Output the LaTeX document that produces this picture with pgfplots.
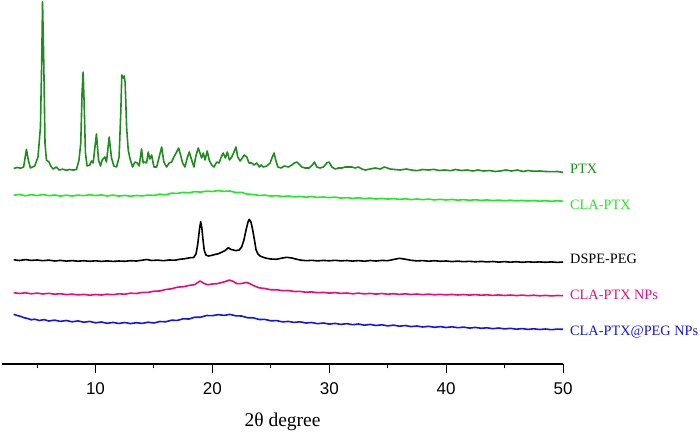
\documentclass[border=0pt]{standalone}
\usepackage{fontspec}
\setmainfont{Liberation Serif}
\newfontfamily\arial{Liberation Sans}
\usepackage{pgfplots}
\pgfplotsset{compat=1.18}
\definecolor{ptxgreen}{RGB}{30,140,30}
\definecolor{clagreen}{RGB}{30,235,30}
\definecolor{npspink}{RGB}{235,10,120}
\definecolor{pegblue}{RGB}{20,20,230}
\begin{document}
\begin{tikzpicture}
\useasboundingbox (-2pt,-67pt) rectangle (698pt,364pt);
\begin{axis}[
    at={(0,0)}, anchor=south west,
    scale only axis, width=561pt, height=364pt,
    xmin=2, xmax=50, ymin=0, ymax=364,
    axis x line=bottom, axis y line=none,
    x axis line style={-, line width=1.2pt},
    xtick={10,20,30,40,50}, minor xtick={5,15,25,35,45}, ytick=\empty,
    tick align=outside, major tick length=8.5pt, minor tick length=4.3pt,
    tick style={black, line width=0.9pt},
    /pgf/number format/assume math mode=true,
    xticklabel style={font=\arial\fontsize{17}{19}\selectfont, inner sep=0pt, anchor=north, yshift=-10pt},
    xlabel={2θ degree},
    xlabel style={font=\fontsize{19.5}{22}\selectfont, at={(axis description cs:0.5,0)}, anchor=base, yshift=-62pt, inner sep=0pt},
    clip=false,
    every axis plot/.append style={line width=1.6pt, line join=round},
]
% PTX
\addplot[ptxgreen] table {
3.0 195.5
3.3 196.5
3.6 195.8
3.85 197
4.09 214.7
4.25 204
4.43 196
4.80 198
5.08 207
5.29 237
5.40 304
5.47 362
5.57 304
5.68 221
5.80 204
6.02 202
6.17 198
6.37 195
6.66 197
6.88 194
7.2 194.8
7.5 193.8
7.8 194.5
8.1 193.9
8.37 194.5
8.59 204
8.74 221
8.85 271
8.94 292
9.02 264
9.14 211
9.28 198
9.51 199
9.66 203
9.80 201
10.08 230
10.26 204
10.43 198
10.57 204
10.80 207
10.94 202
11.17 227
11.37 206
11.57 198
11.80 197
12.02 207
12.17 254
12.25 289
12.37 286
12.45 288
12.54 281
12.66 237
12.80 214
12.94 206
13.17 197
13.37 202
13.57 201
13.74 198
13.94 215
14.08 201
14.22 202
14.37 201
14.51 212
14.65 205
14.80 209
15.00 197
15.23 197
15.45 207
15.66 217
15.85 202
16.08 197
16.31 201
16.51 202
16.71 207
16.94 212
17.11 216
17.28 209
17.45 201
17.65 197
17.85 206
18.02 212
18.23 204
18.42 197
18.59 208
18.79 216
18.94 211
19.08 206
19.22 211
19.37 204
19.56 213
19.73 204
19.94 199
20.14 197
20.37 202
20.57 201
20.76 207
20.93 211
21.11 206
21.28 212
21.45 204
21.66 207
21.85 212
22.02 217
22.17 207
22.37 203
22.56 206
22.73 209
22.94 207
23.14 201
23.37 201
23.57 199
23.80 201
24.02 197
24.17 199
24.36 197
24.65 198
24.94 201
25.13 207
25.28 211
25.42 204
25.60 197
25.88 196
26.16 198
26.50 197
26.80 199
27.02 201
27.22 202
27.42 200
27.65 197
27.94 196
28.28 196
28.56 199
28.73 202
28.94 197
29.22 196
29.50 197
29.79 201
29.99 202
30.22 197
30.51 195
30.79 196
31.08 196
31.37 197
31.65 197
31.94 197
32.22 196
32.50 197
32.79 195
33.08 194
33.50 195
33.94 196
34.36 195
34.73 197
35.2 195
35.6 194.5
36.08 194
36.6 195
37.0 194
37.51 193.3
38.0 194.5
38.5 194
38.93 194.7
39.4 193.5
39.9 194
40.36 193.3
40.8 194.5
41.3 193.5
41.79 194
42.3 193
42.7 194
43.21 193
43.7 193.5
44.2 192.5
44.64 193
45.1 194
45.6 193
46.08 194
46.6 192.5
47.0 193.5
47.51 192.7
48.0 193
48.5 192.5
48.94 192.3
49.5 192.5
50.0 191.7
};
% CLA-PTX
\addplot[clagreen] table {
3.0 168.7
3.5 169.6
4.0 168.2
4.5 169.3
5.0 168.4
5.5 169.5
6.0 168.3
6.5 169.0
7.0 167.9
7.5 168.8
8.0 168.0
8.5 168.9
9.0 168.3
9.5 169.3
10.0 168.4
10.5 169.1
11.0 168.0
11.5 168.9
12.0 167.9
12.5 168.6
13.0 167.8
13.5 168.5
14.0 168.1
14.5 168.9
15.0 168.6
15.5 169.8
16.0 169.2
16.5 170.8
17.0 170.6
17.5 171.7
18.0 171.2
18.5 172.4
19.0 171.9
19.5 172.9
20.0 172.5
20.5 173.4
21.0 172.6
21.5 173.0
22.0 171.5
22.5 171.6
23.0 169.8
23.5 169.6
24.0 168.5
24.5 168.9
25.0 167.9
25.5 168.4
26.0 167.5
26.5 168.0
27.0 167.1
27.5 167.6
28.0 166.8
28.5 167.5
29.0 166.6
29.5 167.0
30.0 166.4
30.5 166.9
31.0 165.9
31.5 166.4
32.0 165.6
32.5 166.2
33.0 165.3
33.5 165.9
34.0 165.0
34.5 165.6
35.0 164.9
35.5 165.4
36.0 164.6
36.5 165.2
37.0 164.4
37.5 165.0
38.0 164.3
38.5 164.9
39.0 164.1
39.5 164.7
40.0 164.0
40.5 164.6
41.0 163.8
41.5 164.4
42.0 163.7
42.5 164.3
43.0 163.6
43.5 164.1
44.0 163.4
44.5 163.9
45.0 163.3
45.5 163.8
46.0 163.1
46.5 163.6
47.0 163.0
47.5 163.5
48.0 162.8
48.5 163.3
49.0 162.7
49.5 163.2
50.0 162.8
};
% DSPE-PEG
\addplot[black] table {
3.0 104.2
3.5 103.5
4.0 104.4
4.5 103.6
5.0 104.0
5.5 103.3
6.0 103.9
6.5 103.0
7.0 103.6
7.5 102.9
8.0 103.4
8.5 102.8
9.0 103.3
9.5 102.7
10.0 103.2
10.5 102.6
11.0 103.1
11.5 102.6
12.0 103.0
12.5 102.7
13.0 103.3
13.5 103.0
14.0 103.8
14.4 104.5
14.8 103.5
15.3 103.9
15.8 103.3
16.3 104.0
16.8 103.8
17.2 104.7
17.6 105.2
18.1 106.3
18.4 106.5
18.6 110
18.75 120
18.9 135
19.0 142.3
19.1 136
19.2 124
19.3 114
19.45 109
19.65 108
19.9 108.5
20.2 109.5
20.5 110.2
20.8 111.8
21.1 113.5
21.36 116.3
21.6 114.5
21.8 114
22.0 113.3
22.3 114
22.5 117
22.7 124
22.9 135
23.05 142
23.16 144.7
23.3 142
23.45 134
23.6 124
23.74 114
23.9 110
24.08 108
24.4 106.5
24.65 105.7
25.0 105
25.5 104.7
25.9 105.8
26.37 106.7
26.8 106
27.22 104.7
27.6 103.8
28.08 103.3
28.5 103.7
29.0 103.1
29.5 103.6
30.0 103.2
30.5 103.7
31.0 103.1
31.5 103.5
32.0 102.9
32.5 103.4
33.0 102.8
33.5 103.5
34.0 103.0
34.5 103.6
35.0 103.3
35.5 104.5
36.0 105.7
36.5 104.8
37.0 103.7
37.5 103.1
38.0 103.4
38.5 102.8
39.0 103.3
39.5 102.7
40.0 103.0
40.5 102.4
41.0 102.9
41.5 102.3
42.0 102.7
42.5 102.2
43.0 102.6
43.5 102.1
44.0 102.5
44.5 101.9
45.0 102.4
45.5 101.8
46.0 102.3
46.5 101.7
47.0 102.2
47.5 101.8
48.0 102.1
48.5 101.7
49.0 102.1
49.5 101.6
50.0 102.0
};
% CLA-PTX NPs
\addplot[npspink] table {
3.0 71.3
3.5 70.5
4.0 71.2
4.5 70.2
5.0 70.9
5.5 70.0
6.0 70.7
6.5 69.8
7.0 70.3
7.5 69.4
8.0 69.9
8.5 69.1
9.0 69.6
9.5 68.8
10.0 69.5
10.5 69.0
11.0 69.8
11.5 69.3
12.0 70.2
12.5 69.8
13.0 70.8
13.5 70.5
14.0 71.6
14.5 71.6
15.0 72.8
15.5 73.0
16.0 74.5
16.5 75.2
17.0 76.8
17.5 77.3
18.0 78.5
18.5 79.5
18.94 83
19.3 80.5
19.6 79.3
20.0 80.0
20.4 80.3
20.8 81.5
21.1 82.4
21.45 84
21.8 82.5
22.1 80.3
22.5 80.5
22.9 81.6
23.2 80.4
23.5 78.5
24.0 76.2
24.5 75.5
25.0 74.2
25.5 74.3
26.0 73.3
26.5 73.5
27.0 72.5
27.5 72.6
28.0 71.8
28.5 72.1
29.0 71.3
29.5 71.6
30.0 70.9
30.5 71.4
31.0 70.6
31.5 71.0
32.0 70.2
32.5 70.9
33.0 70.1
33.5 70.6
34.0 69.9
34.5 70.5
35.0 69.8
35.5 70.3
36.0 69.6
36.5 70.2
37.0 69.5
37.5 70.0
38.0 69.3
38.5 69.9
39.0 69.2
39.5 69.7
40.0 69.1
40.5 69.6
41.0 69.0
41.5 69.5
42.0 68.9
42.5 69.4
43.0 68.8
43.5 69.2
44.0 68.6
44.5 69.1
45.0 68.5
45.5 69.0
46.0 68.4
46.5 68.9
47.0 68.3
47.5 68.8
48.0 68.2
48.5 68.6
49.0 68.1
49.5 68.5
50.0 68.3
};
% CLA-PTX@PEG NPs
\addplot[pegblue] table {
3.0 49.7
3.3 48.5
3.6 47.6
3.9 46.2
4.2 45.5
4.5 44.2
4.8 44.8
5.2 43.5
5.6 44.4
6.0 43.0
6.5 43.9
7.0 42.6
7.5 43.5
8.0 42.2
8.5 43.1
9.0 41.8
9.5 42.6
10.0 41.2
10.5 42.0
11.0 40.7
11.5 41.6
12.0 40.5
12.5 41.5
13.0 40.4
13.5 41.3
14.0 40.6
14.5 41.8
15.0 41.0
15.5 42.5
16.0 42.2
16.5 43.8
17.0 43.6
17.5 45.2
18.0 45.0
18.5 46.8
19.0 46.8
19.5 48.5
20.0 48.3
20.5 49.4
21.0 48.6
21.5 49.6
22.0 48.2
22.5 48.0
23.0 46.3
23.5 46.2
24.0 44.5
24.5 44.6
25.0 43.2
25.5 43.4
26.0 42.1
26.5 42.6
27.0 41.6
27.5 42.2
28.0 41.0
28.5 41.5
29.0 40.3
29.5 41.0
30.0 39.9
30.5 40.6
31.0 39.6
31.5 40.4
32.0 39.3
32.5 40.0
33.0 38.8
33.5 39.6
34.0 38.5
34.5 39.2
35.0 38.1
35.5 38.9
36.0 37.8
36.5 38.5
37.0 37.4
37.5 38.0
38.0 37.0
38.5 37.7
39.0 36.7
39.5 37.4
40.0 36.5
40.5 37.2
41.0 36.3
41.5 36.9
42.0 35.9
42.5 36.6
43.0 35.7
43.5 36.2
44.0 35.3
44.5 36.0
45.0 35.1
45.5 35.7
46.0 34.8
46.5 35.4
47.0 34.6
47.5 35.2
48.0 34.5
48.5 35.0
49.0 34.3
49.5 34.9
50.0 34.7
};
\begin{scope}[every node/.style={anchor=base west, xshift=7pt, inner sep=0pt, font=\fontsize{14.3}{16}\selectfont}]
\node[text=ptxgreen] at (axis cs:50,190.7) {PTX};
\node[text=clagreen] at (axis cs:50,155) {CLA-PTX};
\node[text=black] at (axis cs:50,100.7) {DSPE-PEG};
\node[text=npspink] at (axis cs:50,64.7) {CLA-PTX NPs};
\node[text=pegblue] at (axis cs:50,28.3) {CLA-PTX@PEG NPs};
\end{scope}
\end{axis}
\end{tikzpicture}
\end{document}
